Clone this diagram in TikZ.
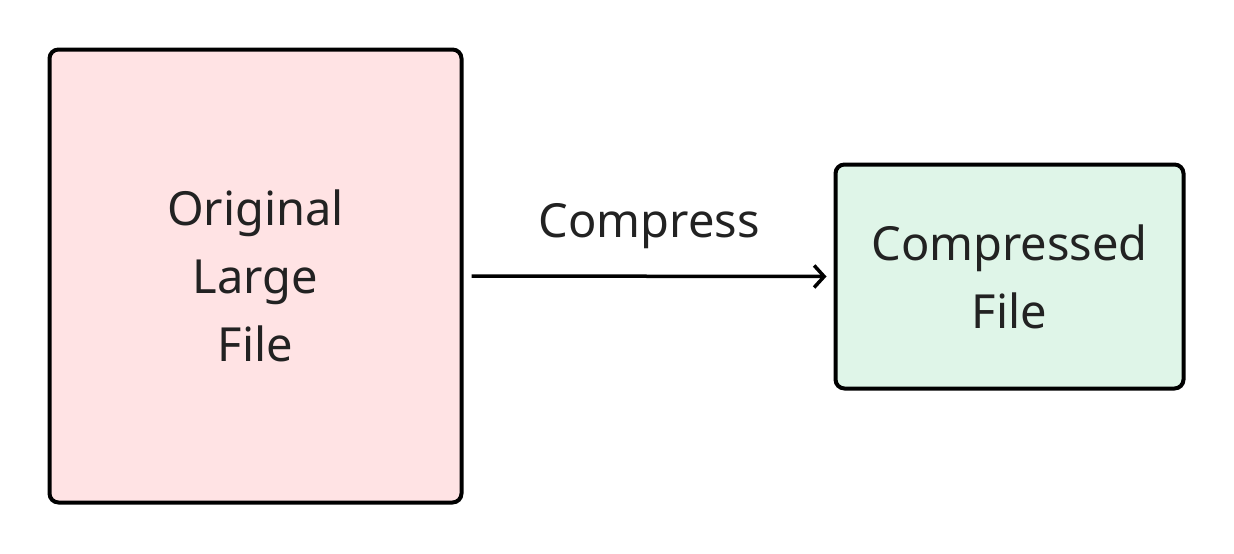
\documentclass[tikz,border=0pt]{standalone}
\usepackage{fontspec}
\setmainfont{Noto Sans}
\usetikzlibrary{arrows.meta}
\definecolor{pinkfill}{HTML}{FFE3E4}
\definecolor{greenfill}{HTML}{DFF5E8}
\definecolor{txt}{HTML}{222222}
\begin{document}
\begin{tikzpicture}[x=1pt,y=-1pt,
  box/.style={draw=black,line width=4pt,rounded corners=9pt,inner sep=0pt,text=txt,align=center,
    font=\fontsize{47}{68}\selectfont},
  lbl/.style={text=txt,font=\fontsize{47}{68}\selectfont,inner sep=0pt}]
\useasboundingbox (0,0) rectangle (1234,554);
\node[box,fill=pinkfill,minimum width=412pt,minimum height=453pt] (orig) at (255.5,276) {Original\\Large\\File};
\node[box,fill=greenfill,minimum width=348pt,minimum height=224pt] (comp) at (1009.5,276.5) {Compressed\\File};
\draw[line width=3.5pt,-{Straight Barb[length=10pt,width=22pt,line width=3.5pt]}] ([xshift=8pt]orig.east) -- ([xshift=-7pt]comp.west) node[midway,lbl,yshift=50pt] (lab) {Compress};
\end{tikzpicture}
\end{document}
